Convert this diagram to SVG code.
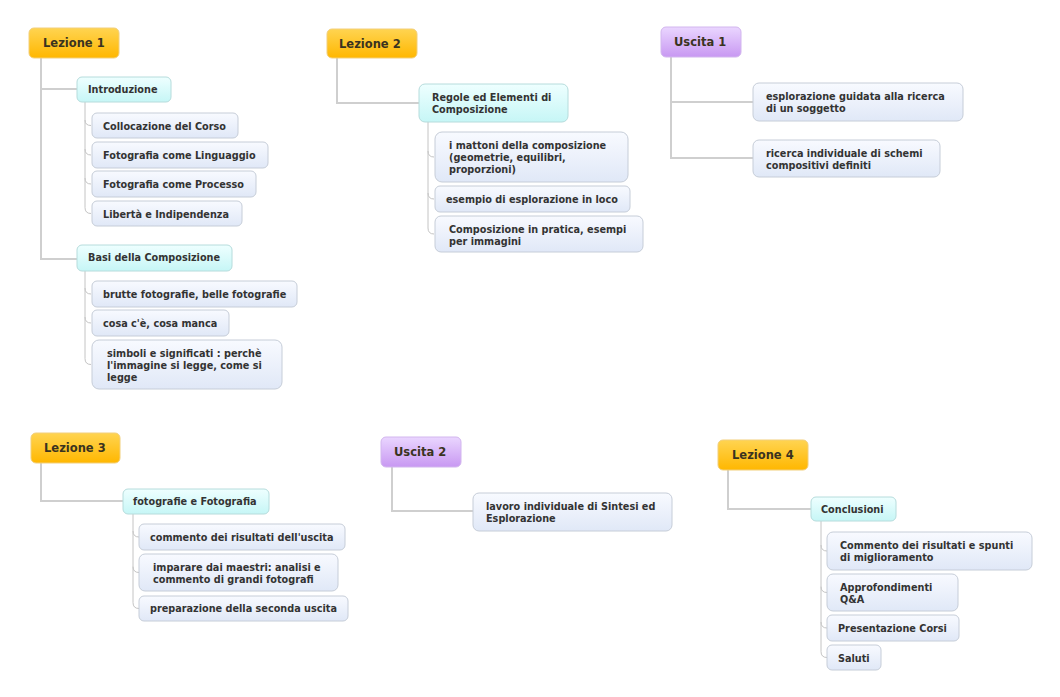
<svg xmlns="http://www.w3.org/2000/svg" width="1060" height="697" viewBox="0 0 1060 697">
<defs>
<linearGradient id="gOr" x1="0" y1="0" x2="0" y2="1"><stop offset="0" stop-color="#FFD451"/><stop offset="1" stop-color="#FFB700"/></linearGradient>
<linearGradient id="gPu" x1="0" y1="0" x2="0" y2="1"><stop offset="0" stop-color="#EAD6FF"/><stop offset="1" stop-color="#C898F2"/></linearGradient>
<linearGradient id="gCy" x1="0" y1="0" x2="0" y2="1"><stop offset="0" stop-color="#EEFFFF"/><stop offset="1" stop-color="#C6F6F6"/></linearGradient>
<linearGradient id="gLf" x1="0" y1="0" x2="0" y2="1"><stop offset="0" stop-color="#F8FAFF"/><stop offset="1" stop-color="#E0E8F7"/></linearGradient>
</defs>
<style>
.or{fill:url(#gOr);stroke:#F2CF7A;stroke-width:1}
.pu{fill:url(#gPu);stroke:#D2B6EE;stroke-width:1}
.cy{fill:url(#gCy);stroke:#B6DCDC;stroke-width:1}
.lf{fill:url(#gLf);stroke:#C6CDD8;stroke-width:1}
text{font-family:"DejaVu Sans","Verdana",sans-serif;font-weight:bold;fill:#333}
.t{font-size:11.5px;fill:#3a3320}
.s{font-size:9.7px}
.m{fill:none;stroke:#CFCFCF;stroke-width:2}
.c{fill:none;stroke:#C4C4C4;stroke-width:1}
</style>
<rect width="1060" height="697" fill="#fff"/>
<g id="connectors">
<path class="m" d="M41,58 V259 H77 M41,89 H77"/>
<path class="c" d="M85,102 V120 Q85,125.5 91,125.5 M85,120 V149 Q85,155 91,155 M85,149 V178 Q85,184 91,184 M85,178 V207.5 Q85,213.5 91,213.5"/>
<path class="c" d="M85,271 V288 Q85,294 91,294 M85,288 V317 Q85,323 91,323 M85,317 V358.5 Q85,364.5 91,364.5"/>
<path class="m" d="M337,58 V103 H419"/>
<path class="c" d="M428,122 V151 Q428,157 434,157 M428,151 V193 Q428,199 434,199 M428,193 V228 Q428,234 434,234"/>
<path class="m" d="M671,57 V158 H753 M671,102 H753"/>
<path class="m" d="M41,463 V501 H123"/>
<path class="c" d="M133,514 V531 Q133,537 139,537 M133,531 V566.5 Q133,572.5 139,572.5 M133,566.5 V602.5 Q133,608.5 139,608.5"/>
<path class="m" d="M392,467 V511 H473"/>
<path class="m" d="M728,470 V509 H811"/>
<path class="c" d="M821,521 V545 Q821,551 827,551 M821,545 V586.5 Q821,592.5 827,592.5 M821,586.5 V622 Q821,628 827,628 M821,622 V651.5 Q821,657.5 827,657.5"/>
</g>
<g id="lezione1"><rect class="or" x="29" y="28" width="90" height="30" rx="5"/><text class="t" x="43" y="47">Lezione 1</text></g>
<g id="lezione2"><rect class="or" x="327" y="29" width="90" height="29" rx="5"/><text class="t" x="339" y="48">Lezione 2</text></g>
<g id="uscita1"><rect class="pu" x="661" y="27" width="80" height="30" rx="5"/><text class="t" x="674" y="46">Uscita 1</text></g>
<g id="lezione3"><rect class="or" x="31" y="433" width="89" height="30" rx="5"/><text class="t" x="44" y="452">Lezione 3</text></g>
<g id="uscita2"><rect class="pu" x="381" y="437" width="80" height="30" rx="5"/><text class="t" x="394" y="456">Uscita 2</text></g>
<g id="lezione4"><rect class="or" x="718" y="440" width="90" height="30" rx="5"/><text class="t" x="732" y="459">Lezione 4</text></g>

<g id="introduzione"><rect class="cy" x="77" y="77" width="94" height="25" rx="5"/><text class="s" x="88" y="93">Introduzione</text></g>
<g id="basi"><rect class="cy" x="77" y="245" width="155" height="26" rx="5"/><text class="s" x="88" y="261">Basi della Composizione</text></g>
<g id="regole"><rect class="cy" x="419" y="84" width="149" height="38" rx="6"/><text class="s" x="432" y="101">Regole ed Elementi di</text><text class="s" x="432" y="113">Composizione</text></g>
<g id="fotografie"><rect class="cy" x="123" y="489" width="146" height="25" rx="5"/><text class="s" x="133" y="505">fotografie e Fotografia</text></g>
<g id="conclusioni"><rect class="cy" x="811" y="497" width="85" height="24" rx="5"/><text class="s" x="821" y="513">Conclusioni</text></g>

<g id="collocazione"><rect class="lf" x="92" y="113" width="146" height="25" rx="5"/><text class="s" x="103" y="130">Collocazione del Corso</text></g>
<g id="linguaggio"><rect class="lf" x="92" y="142" width="176" height="26" rx="5"/><text class="s" x="103" y="159">Fotografia come Linguaggio</text></g>
<g id="processo"><rect class="lf" x="92" y="171" width="164" height="26" rx="5"/><text class="s" x="103" y="188">Fotografia come Processo</text></g>
<g id="liberta"><rect class="lf" x="92" y="201" width="150" height="25" rx="5"/><text class="s" x="103" y="218">Libertà e Indipendenza</text></g>
<g id="brutte"><rect class="lf" x="92" y="281" width="205" height="26" rx="5"/><text class="s" x="103" y="298">brutte fotografie, belle fotografie</text></g>
<g id="cosa"><rect class="lf" x="92" y="310" width="137" height="26" rx="5"/><text class="s" x="103" y="327">cosa c'è, cosa manca</text></g>
<g id="simboli"><rect class="lf" x="92" y="340" width="190" height="49" rx="7"/><text class="s" x="107" y="357">simboli e significati : perchè</text><text class="s" x="107" y="369">l'immagine si legge, come si</text><text class="s" x="107" y="381">legge</text></g>
<g id="mattoni"><rect class="lf" x="435" y="132" width="193" height="50" rx="7"/><text class="s" x="449" y="149">i mattoni della composizione</text><text class="s" x="449" y="161">(geometrie, equilibri,</text><text class="s" x="449" y="173">proporzioni)</text></g>
<g id="esempio"><rect class="lf" x="435" y="186" width="195" height="26" rx="5"/><text class="s" x="446" y="203">esempio di esplorazione in loco</text></g>
<g id="pratica"><rect class="lf" x="435" y="216" width="208" height="36" rx="6"/><text class="s" x="449" y="233">Composizione in pratica, esempi</text><text class="s" x="449" y="245">per immagini</text></g>
<g id="esplorazione"><rect class="lf" x="753" y="83" width="210" height="38" rx="6"/><text class="s" x="766" y="100">esplorazione guidata alla ricerca</text><text class="s" x="766" y="112">di un soggetto</text></g>
<g id="ricerca"><rect class="lf" x="753" y="140" width="187" height="37" rx="6"/><text class="s" x="766" y="157">ricerca individuale di schemi</text><text class="s" x="766" y="169">compositivi definiti</text></g>
<g id="commento"><rect class="lf" x="139" y="524" width="206" height="26" rx="5"/><text class="s" x="150" y="541">commento dei risultati dell'uscita</text></g>
<g id="imparare"><rect class="lf" x="139" y="554" width="199" height="37" rx="6"/><text class="s" x="153" y="571">imparare dai maestri: analisi e</text><text class="s" x="153" y="583">commento di grandi fotografi</text></g>
<g id="preparazione"><rect class="lf" x="139" y="596" width="209" height="25" rx="5"/><text class="s" x="150" y="612">preparazione della seconda uscita</text></g>
<g id="lavoro"><rect class="lf" x="473" y="493" width="199" height="38" rx="6"/><text class="s" x="486" y="510">lavoro individuale di Sintesi ed</text><text class="s" x="486" y="522">Esplorazione</text></g>
<g id="commento-risultati"><rect class="lf" x="827" y="532" width="205" height="38" rx="6"/><text class="s" x="840" y="549">Commento dei risultati e spunti</text><text class="s" x="840" y="561">di miglioramento</text></g>
<g id="approfondimenti"><rect class="lf" x="827" y="574" width="131" height="37" rx="6"/><text class="s" x="840" y="591">Approfondimenti</text><text class="s" x="840" y="603">Q&amp;A</text></g>
<g id="presentazione"><rect class="lf" x="827" y="615" width="132" height="26" rx="5"/><text class="s" x="838" y="632">Presentazione Corsi</text></g>
<g id="saluti"><rect class="lf" x="827" y="645" width="54" height="25" rx="5"/><text class="s" x="838" y="662">Saluti</text></g>
</svg>
